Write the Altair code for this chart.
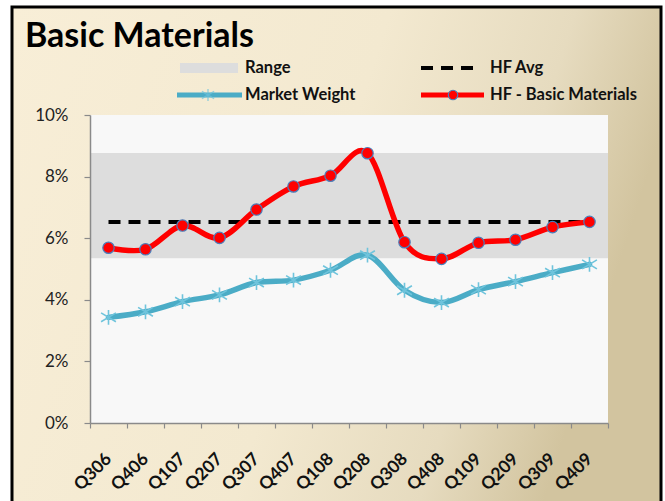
import altair as alt
import pandas as pd

quarters = ["Q306", "Q406", "Q107", "Q207", "Q307", "Q407", "Q108",
            "Q208", "Q308", "Q408", "Q109", "Q209", "Q309", "Q409"]
hf_basic = [5.69, 5.64, 6.41, 6.01, 6.93, 7.68, 8.03,
            8.76, 5.87, 5.33, 5.85, 5.95, 6.36, 6.53]
market_weight = [3.43, 3.61, 3.94, 4.16, 4.56, 4.64, 4.96,
                 5.45, 4.31, 3.91, 4.33, 4.59, 4.88, 5.15]
hf_avg = 6.53
range_low = 5.35
range_high = 8.77
y_ticks = [0, 2, 4, 6, 8, 10]
legend_labels = ["Range", "HF Avg", "Market Weight", "HF - Basic Materials"]
title_text = "Basic Materials"

W, H = 518, 308
FONT = "Lato"

df = pd.DataFrame({
    "q": quarters,
    "hf": hf_basic,
    "mw": market_weight,
    "avg": [hf_avg] * len(quarters),
})
band_df = pd.DataFrame({"lo": [range_low], "hi": [range_high]})
one = pd.DataFrame({"k": [0]})

yscale = alt.Scale(domain=[0, 10], nice=False, zero=True)
xscale = alt.Scale(type="band", paddingInner=0, paddingOuter=0)

x_axis = alt.Axis(
    title=None, tickBand="extent", labelAngle=315, labelAlign="right",
    labelBaseline="middle", labelFont=FONT, labelFontSize=17.5,
    labelFontWeight="bold", labelColor="#111111", labelPadding=28,
    tickSize=5, tickColor="#8a8a8a", domainColor="#8a8a8a",
    domainWidth=1.5, tickWidth=1.2, zindex=1, grid=False,
)
y_axis = alt.Axis(
    title=None, values=y_ticks, labelExpr="datum.value + '%'",
    labelFont=FONT, labelFontSize=17, labelColor="#222222",
    labelPadding=16, tickSize=6, tickColor="#8a8a8a",
    domainColor="#8a8a8a", domainWidth=1.5, tickWidth=1.2,
    zindex=1, grid=False,
)

gradient = alt.Gradient(
    gradient="linear",
    stops=[
        alt.GradientStop(color="#f8eed7", offset=0),
        alt.GradientStop(color="#f3e9d0", offset=0.55),
        alt.GradientStop(color="#e6dbbf", offset=0.82),
        alt.GradientStop(color="#d2c49f", offset=1),
    ],
    x1=0, y1=0, x2=1, y2=0.25,
)

bg = alt.Chart(one).mark_rect(fill=gradient, stroke="#000000", strokeWidth=3).encode(
    x=alt.value(-78), x2=alt.value(571), y=alt.value(-108), y2=alt.value(400)
)
plot_bg = alt.Chart(one).mark_rect(fill="#f8f8f8").encode(
    x=alt.value(0), x2=alt.value(W), y=alt.value(0), y2=alt.value(H)
)

band = alt.Chart(band_df).mark_rect(color="#dddddd").encode(
    y=alt.Y("lo:Q", scale=yscale, axis=y_axis),
    y2="hi:Q",
)

base = alt.Chart(df).encode(
    x=alt.X("q:N", sort=quarters, scale=xscale, axis=x_axis),
)

avg_line = base.mark_line(color="#000000", strokeWidth=4, strokeDash=[12, 8],
                          strokeCap="butt").encode(
    y=alt.Y("avg:Q", scale=yscale, axis=y_axis)
)

star_path = "M0,-1L0,1M-1,-0.6L1,0.6M-1,0.6L1,-0.6"

mw_line = base.mark_line(color="#4bacc6", strokeWidth=5.5, interpolate="cardinal",
                         strokeJoin="round", strokeCap="round").encode(
    y=alt.Y("mw:Q", scale=yscale, axis=y_axis)
)
mw_pts = base.mark_point(shape=star_path, size=220, filled=False,
                         stroke="#6fc4dc", strokeWidth=1.6, opacity=1).encode(
    y=alt.Y("mw:Q", scale=yscale, axis=y_axis)
)

hf_line = base.mark_line(color="#ff0000", strokeWidth=5.5, interpolate="cardinal",
                         strokeJoin="round", strokeCap="round").encode(
    y=alt.Y("hf:Q", scale=yscale, axis=y_axis)
)
hf_pts = base.mark_point(shape="circle", size=130, filled=True, fill="#ff0000",
                         stroke="#4a7ebb", strokeWidth=1.2, opacity=1).encode(
    y=alt.Y("hf:Q", scale=yscale, axis=y_axis)
)

# title and legend decorations
title = alt.Chart(one).mark_text(
    text=title_text, font=FONT, fontSize=34, fontWeight="bold",
    align="left", baseline="alphabetic", color="#000000"
).encode(x=alt.value(-65), y=alt.value(-68))

leg_range = alt.Chart(one).mark_rect(color="#dddddd").encode(
    x=alt.value(90), x2=alt.value(148), y=alt.value(-52), y2=alt.value(-42)
)
leg_mw = alt.Chart(one).mark_rule(color="#4bacc6", strokeWidth=5).encode(
    x=alt.value(87), x2=alt.value(152), y=alt.value(-20)
)
leg_mw_pt = alt.Chart(one).mark_point(shape=star_path, size=150, filled=False,
                                      stroke="#6fc4dc", strokeWidth=1.4).encode(
    x=alt.value(118), y=alt.value(-20)
)
leg_avg = alt.Chart(one).mark_rule(color="#000000", strokeWidth=4,
                                   strokeDash=[12, 8], strokeCap="butt").encode(
    x=alt.value(331), x2=alt.value(390), y=alt.value(-47)
)
leg_hf = alt.Chart(one).mark_rule(color="#ff0000", strokeWidth=5).encode(
    x=alt.value(331), x2=alt.value(394), y=alt.value(-20)
)
leg_hf_pt = alt.Chart(one).mark_point(shape="circle", size=90, filled=True,
                                      fill="#ff0000", stroke="#4a7ebb",
                                      strokeWidth=1.2, opacity=1).encode(
    x=alt.value(363), y=alt.value(-20)
)

def leg_text(label, x, y):
    return alt.Chart(one).mark_text(
        text=label, font=FONT, fontSize=16.5, fontWeight="bold",
        align="left", baseline="middle", color="#111111"
    ).encode(x=alt.value(x), y=alt.value(y))

texts = [
    leg_text(legend_labels[0], 155, -47),
    leg_text(legend_labels[1], 400, -47),
    leg_text(legend_labels[2], 155, -20),
    leg_text(legend_labels[3], 400, -20),
]

chart = alt.layer(
    bg, plot_bg, band, avg_line, mw_line, mw_pts, hf_line, hf_pts,
    title, leg_range, leg_mw, leg_mw_pt, leg_avg, leg_hf, leg_hf_pt, *texts
).properties(
    width=W, height=H,
    autosize=alt.AutoSizeParams(type="none"),
    padding={"left": 90, "top": 115, "right": 57, "bottom": 78},
    background="#ffffff",
).configure_view(stroke=None)

chart.save("out.html", embed_options={"renderer": "svg", "actions": False})
